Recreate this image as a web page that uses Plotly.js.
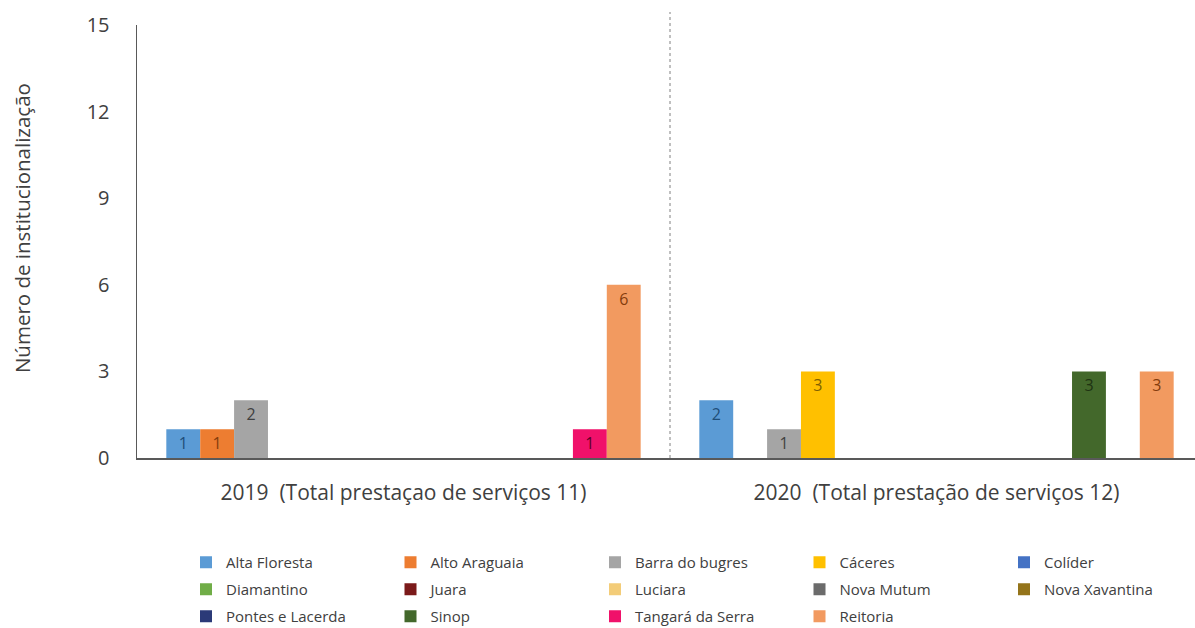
<!DOCTYPE html>
<html><head><meta charset="utf-8">
<script src="https://cdn.plot.ly/plotly-3.0.1.min.js"></script>
<style>html,body{margin:0;padding:0;background:#fff}</style>
</head><body>
<div id="chart" style="width:1195px;height:628px"></div>
<script>
var categories = ["2019  (Total prestaçao de serviços 11)", "2020  (Total prestação de serviços 12)"];
var seriesNames = ["Alta Floresta","Alto Araguaia","Barra do bugres","Cáceres","Colíder",
  "Diamantino","Juara","Luciara","Nova Mutum","Nova Xavantina",
  "Pontes e Lacerda","Sinop","Tangará da Serra","Reitoria"];
var altaFloresta   = [1, 2];
var altoAraguaia   = [1, 0];
var barraDoBugres  = [2, 1];
var caceres        = [0, 3];
var colider        = [0, 0];
var diamantino     = [0, 0];
var juara          = [0, 0];
var luciara        = [0, 0];
var novaMutum      = [0, 0];
var novaXavantina  = [0, 0];
var pontesLacerda  = [0, 0];
var sinop          = [0, 3];
var tangara        = [1, 0];
var reitoria       = [6, 3];
var yTicks = [0, 3, 6, 9, 12, 15];
var yTitle = "Número de institucionalização";

var seriesValues = [altaFloresta, altoAraguaia, barraDoBugres, caceres, colider,
  diamantino, juara, luciara, novaMutum, novaXavantina, pontesLacerda, sinop, tangara, reitoria];
var colors = ["#5B9BD5","#ED7D31","#A5A5A5","#FFC000","#4472C4",
  "#70AD47","#7B1A1A","#F3CC78","#6B6B6B","#94741A",
  "#2B3A78","#43682B","#F0116A","#F29A60"];
var textColors = ["#1F4E79","#843C0C","#404040","#7F6000","#1F3864",
  "#375623","#400000","#7F6000","#262626","#4D3B00",
  "#111833","#1E3312","#5C0026","#843C0C"];

var FONT = "'Open Sans', Lato, sans-serif";
var nCols = 5;

var traces = seriesNames.map(function(name, i){
  var vals = seriesValues[i];
  var col = i % nCols;
  return {
    type: "bar",
    name: name,
    x: categories,
    y: vals.map(function(v){ return v > 0 ? v : null; }),
    text: vals.map(function(v){ return v > 0 ? String(v) : ""; }),
    textposition: "inside",
    insidetextanchor: "end",
    textangle: 0,
    constraintext: "none",
    textfont: {family: FONT, size: 16, color: textColors[i]},
    marker: {color: colors[i], line: {width: 0}},
    legend: col === 0 ? "legend" : "legend" + (col + 1),
    legendgroup: "g" + i,
    hoverinfo: "name+y"
  };
});

function leg(col){
  return {
    orientation: "v",
    xref: "container", yref: "container",
    xanchor: "left", yanchor: "top",
    x: (186 + 204.5 * col) / 1195,
    y: 1 - 546 / 628,
    tracegroupgap: 4.5,
    itemwidth: 30,
    font: {family: FONT, size: 15, color: "#404040"},
    bgcolor: "rgba(0,0,0,0)",
    traceorder: "grouped"
  };
}

var layout = {
  width: 1195, height: 628,
  margin: {l: 137, r: 0, t: 25, b: 170, autoexpand: false},
  paper_bgcolor: "#fff", plot_bgcolor: "#fff",
  barmode: "group",
  bargap: 0.11,
  bargroupgap: 0,
  font: {family: FONT, color: "#404040"},
  xaxis: {
    type: "category",
    range: [-0.5, 1.485],
    showgrid: false, zeroline: false,
    showline: true, linecolor: "#595959", linewidth: 1.5,
    ticks: "", ticklabelstandoff: 15,
    tickfont: {size: 21, color: "#404040"}
  },
  yaxis: {
    range: [0, 15], tickvals: yTicks, ticktext: yTicks.map(String),
    showgrid: false, zeroline: false,
    showline: true, linecolor: "#595959", linewidth: 1.5,
    ticks: "", ticklabelstandoff: 22,
    tickfont: {size: 20, color: "#404040"}
  },
  annotations: [{
    text: yTitle, textangle: -90,
    xref: "paper", yref: "paper", x: -0.1087, y: 0.531,
    xanchor: "center", yanchor: "middle", showarrow: false,
    font: {family: FONT, size: 20.5, color: "#404040"}
  }],
  shapes: [{
    type: "line", xref: "x", yref: "paper",
    x0: 0.5, x1: 0.5, y0: 0, y1: 1.03,
    line: {color: "#808080", width: 1, dash: "dot"}
  }],
  legend: leg(0),
  legend2: leg(1),
  legend3: leg(2),
  legend4: leg(3),
  legend5: leg(4),
  showlegend: true
};

Plotly.newPlot("chart", traces, layout, {displayModeBar: false, staticPlot: true});
</script>
</body></html>
